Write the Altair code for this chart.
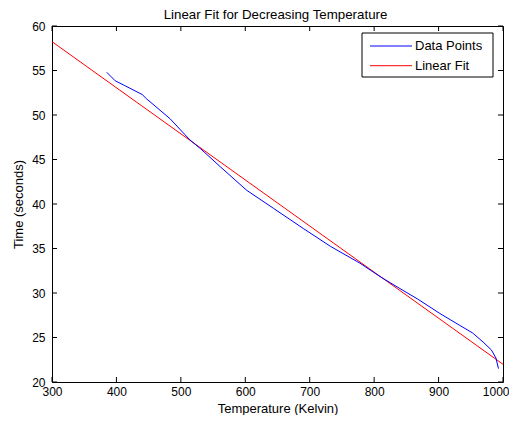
import altair as alt
import pandas as pd

# Data
data_T = [385, 398, 413, 440, 447, 483, 514, 530, 561, 602, 644, 690, 732, 778, 809,
          840, 868, 902, 932, 953, 969, 982, 989, 993]
data_time = [54.8, 53.85, 53.3, 52.3, 51.8, 49.6, 47.2, 46.25, 44.2, 41.55, 39.5, 37.25,
             35.25, 33.35, 31.85, 30.5, 29.3, 27.7, 26.4, 25.5, 24.5, 23.6, 22.7, 21.5]
fit_T = [300, 1000]
fit_time = [58.24, 21.99]
x_ticks = [300, 400, 500, 600, 700, 800, 900, 1000]
y_ticks = [20, 25, 30, 35, 40, 45, 50, 55, 60]
legend_labels = ["Data Points", "Linear Fit"]
title_text = "Linear Fit for Decreasing Temperature"

W, H = 451, 356
FONT = "Liberation Sans"
BLUE = "#0000ff"
RED = "#ff0000"

xscale = alt.Scale(domain=[300, 1000], nice=False, zero=False)
yscale = alt.Scale(domain=[20, 60], nice=False, zero=False)
xaxis = alt.Axis(values=x_ticks, title="Temperature (Kelvin)", ticks=False, tickSize=0,
                 domain=False, grid=False, labelPadding=4, titlePadding=5,
                 labelFlush=False, format="d",
                 labelAlign={"expr": "datum.value == 1000 ? 'right' : 'center'"},
                 labelOffset={"expr": "datum.value == 1000 ? 6 : 0"})
yaxis = alt.Axis(values=y_ticks, title="Time (seconds)", ticks=False, tickSize=0,
                 domain=False, grid=False, labelPadding=7, titlePadding=6,
                 labelFlush=False, format="d")

def X():
    return alt.X("T:Q", scale=xscale, axis=xaxis)

def Y():
    return alt.Y("time:Q", scale=yscale, axis=yaxis)

df_data = pd.DataFrame({"T": data_T, "time": data_time})
df_fit = pd.DataFrame({"T": fit_T, "time": fit_time})
df_xt = pd.DataFrame({"T": x_ticks})
df_yt = pd.DataFrame({"time": y_ticks})
one = pd.DataFrame({"k": [0]})

blue_line = alt.Chart(df_data).mark_line(color=BLUE, strokeWidth=1).encode(
    x=X(), y=Y(), order="T:Q")
red_line = alt.Chart(df_fit).mark_line(color=RED, strokeWidth=1).encode(
    x=X(), y=Y(), order="T:Q")

TL = 5
xt_bottom = alt.Chart(df_xt).mark_rule(color="black", strokeWidth=1).encode(
    x=X(), y=alt.value(H), y2=alt.value(H - TL))
xt_top = alt.Chart(df_xt).mark_rule(color="black", strokeWidth=1).encode(
    x=X(), y=alt.value(0), y2=alt.value(TL))
yt_left = alt.Chart(df_yt).mark_rule(color="black", strokeWidth=1).encode(
    y=Y(), x=alt.value(0), x2=alt.value(TL))
yt_right = alt.Chart(df_yt).mark_rule(color="black", strokeWidth=1).encode(
    y=Y(), x=alt.value(W - TL), x2=alt.value(W))

# title as text mark (placed just above the plot)
title_mark = alt.Chart(pd.DataFrame({"t": [title_text]})).mark_text(
    align="center", baseline="alphabetic", fontSize=13.3, font=FONT, color="black").encode(
    x=alt.value(W / 2 - 2), y=alt.value(-7), text="t:N")

# legend (manual)
LX0, LX1, LY0, LY1 = 310, 441, 7, 51
leg_box = alt.Chart(one).mark_rect(fill="white", stroke="black", strokeWidth=1).encode(
    x=alt.value(LX0), x2=alt.value(LX1), y=alt.value(LY0), y2=alt.value(LY1))
leg_items = []
for i, (lab, col) in enumerate(zip(legend_labels, [BLUE, RED])):
    yy = 20 + i * 19.7
    leg_items.append(alt.Chart(one).mark_rule(color=col, strokeWidth=1).encode(
        x=alt.value(318), x2=alt.value(360), y=alt.value(yy)))
    leg_items.append(alt.Chart(pd.DataFrame({"lab": [lab]})).mark_text(
        align="left", baseline="middle", fontSize=13, font=FONT, color="black").encode(
        x=alt.value(363), y=alt.value(yy), text="lab:N"))

chart = alt.layer(
    red_line, blue_line, xt_bottom, xt_top, yt_left, yt_right, leg_box, *leg_items,
    title_mark
).properties(
    width=W, height=H,
    padding={"left": 44, "top": 18, "right": 6, "bottom": 33},
    autosize=alt.AutoSizeParams(type="none"),
    background="white",
).configure_view(stroke="black", strokeWidth=1).configure_axis(
    labelFont=FONT, labelFontSize=12, labelColor="black",
    titleFont=FONT, titleFontSize=13, titleFontWeight="normal", titleColor="black",
)

chart.save("out.html", embed_options={"renderer": "svg", "actions": False})
